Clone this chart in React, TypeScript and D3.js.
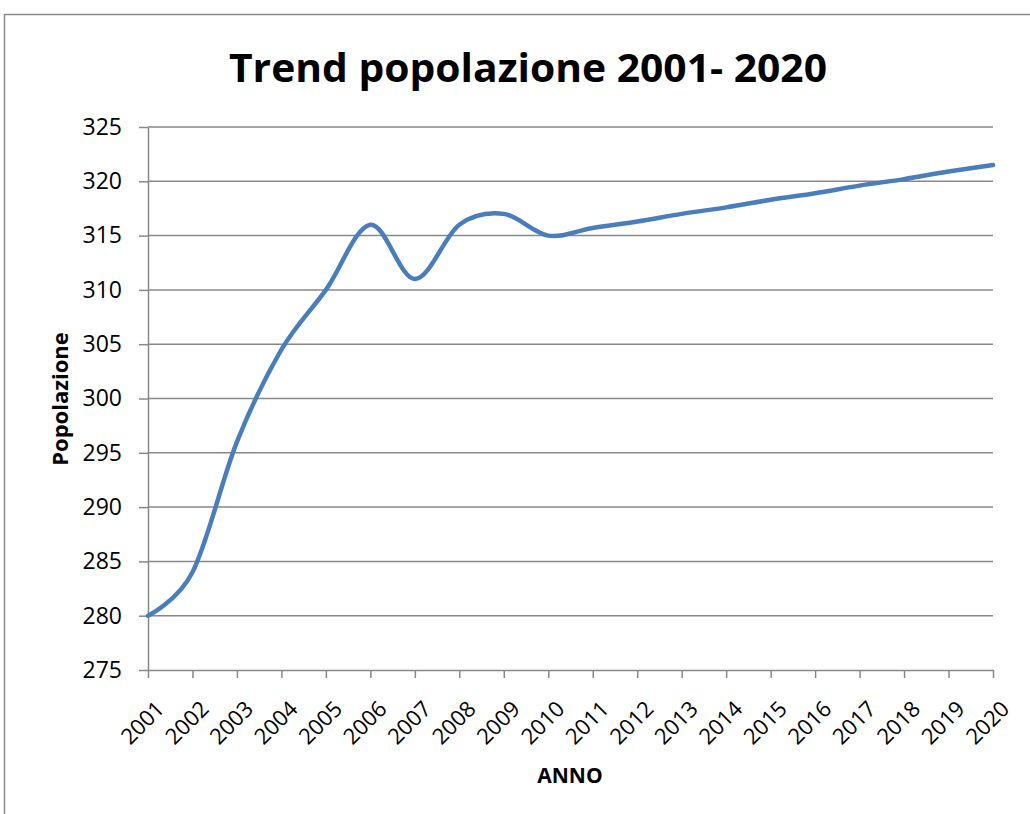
import React, { useEffect, useRef } from "react";
import * as d3 from "d3";

const years = [
  "2001", "2002", "2003", "2004", "2005", "2006", "2007", "2008", "2009", "2010",
  "2011", "2012", "2013", "2014", "2015", "2016", "2017", "2018", "2019", "2020",
];
const popolazione = [
  280, 284, 296, 304.5, 310, 316, 311, 316, 317, 315,
  315.7, 316.3, 317, 317.6, 318.3, 318.9, 319.6, 320.2, 320.9, 321.5,
];
const yTicks = [275, 280, 285, 290, 295, 300, 305, 310, 315, 320, 325];

const W = 1030;
const H = 814;
const font = "Open Sans, Liberation Sans, sans-serif";

const App = () => {
  const ref = useRef<SVGGElement>(null);

  useEffect(() => {
    const g = d3.select(ref.current);
    g.selectAll("*").remove();

    const x = d3.scalePoint().domain(years).range([148, 993]);
    const y = d3.scaleLinear().domain([275, 325]).range([670, 127]);

    // frame
    g.append("rect")
      .attr("x", 4.5)
      .attr("y", 14.5)
      .attr("width", 1100)
      .attr("height", 1000)
      .attr("fill", "none")
      .attr("stroke", "#8c8c8c")
      .attr("stroke-width", 1.5);

    // gridlines
    g.selectAll("line.grid")
      .data(yTicks.slice(1))
      .enter()
      .append("line")
      .attr("class", "grid")
      .attr("x1", 148)
      .attr("x2", 993)
      .attr("y1", d => y(d))
      .attr("y2", d => y(d))
      .attr("stroke", "#888")
      .attr("stroke-width", 1.5);

    const yAxis = g.append("g")
      .attr("transform", "translate(148,0)")
      .call(d3.axisLeft(y).tickValues(yTicks).tickSize(9).tickPadding(17).tickSizeOuter(0));
    yAxis.select(".domain").attr("stroke", "#888").attr("stroke-width", 1.5);
    yAxis.selectAll(".tick line").attr("stroke", "#888").attr("stroke-width", 1.5);
    yAxis.selectAll("text")
      .attr("font-family", font)
      .attr("font-size", 23)
      .attr("fill", "#000");

    const xAxis = g.append("g")
      .attr("transform", "translate(0,670)")
      .call(d3.axisBottom(x).tickSize(8).tickSizeOuter(0));
    xAxis.select(".domain").attr("stroke", "#888").attr("stroke-width", 1.5);
    xAxis.selectAll(".tick line").attr("stroke", "#888").attr("stroke-width", 1.5);
    xAxis.selectAll("text")
      .attr("font-family", font)
      .attr("font-size", 22)
      .attr("fill", "#000")
      .attr("text-anchor", "end")
      .attr("dy", "0.35em")
      .attr("transform", "translate(4,27) rotate(-45)");

    const line = d3.line<number>()
      .x((d, i) => x(years[i]) as number)
      .y(d => y(d))
      .curve(d3.curveCatmullRom.alpha(0));

    g.append("path")
      .datum(popolazione)
      .attr("d", line)
      .attr("fill", "none")
      .attr("stroke", "#4a7ebb")
      .attr("stroke-width", 4.5)
      .attr("stroke-linecap", "round");

    g.append("text")
      .attr("x", 528)
      .attr("y", 82)
      .attr("text-anchor", "middle")
      .attr("font-family", font)
      .attr("font-weight", "bold")
      .attr("font-size", 40)
      .attr("textLength", 598)
      .attr("lengthAdjust", "spacingAndGlyphs")
      .text("Trend popolazione 2001- 2020");

    g.append("text")
      .attr("x", 570)
      .attr("y", 783)
      .attr("text-anchor", "middle")
      .attr("font-family", font)
      .attr("font-weight", "bold")
      .attr("font-size", 21)
      .text("ANNO");

    g.append("text")
      .attr("transform", "translate(68,399) rotate(-90)")
      .attr("text-anchor", "middle")
      .attr("font-family", font)
      .attr("font-weight", "bold")
      .attr("font-size", 22)
      .text("Popolazione");
  }, []);

  return (
    <svg width={W} height={H} style={{ position: "absolute", left: 0, top: 0, background: "#fff" }}>
      <g ref={ref} />
    </svg>
  );
};

export default App;
